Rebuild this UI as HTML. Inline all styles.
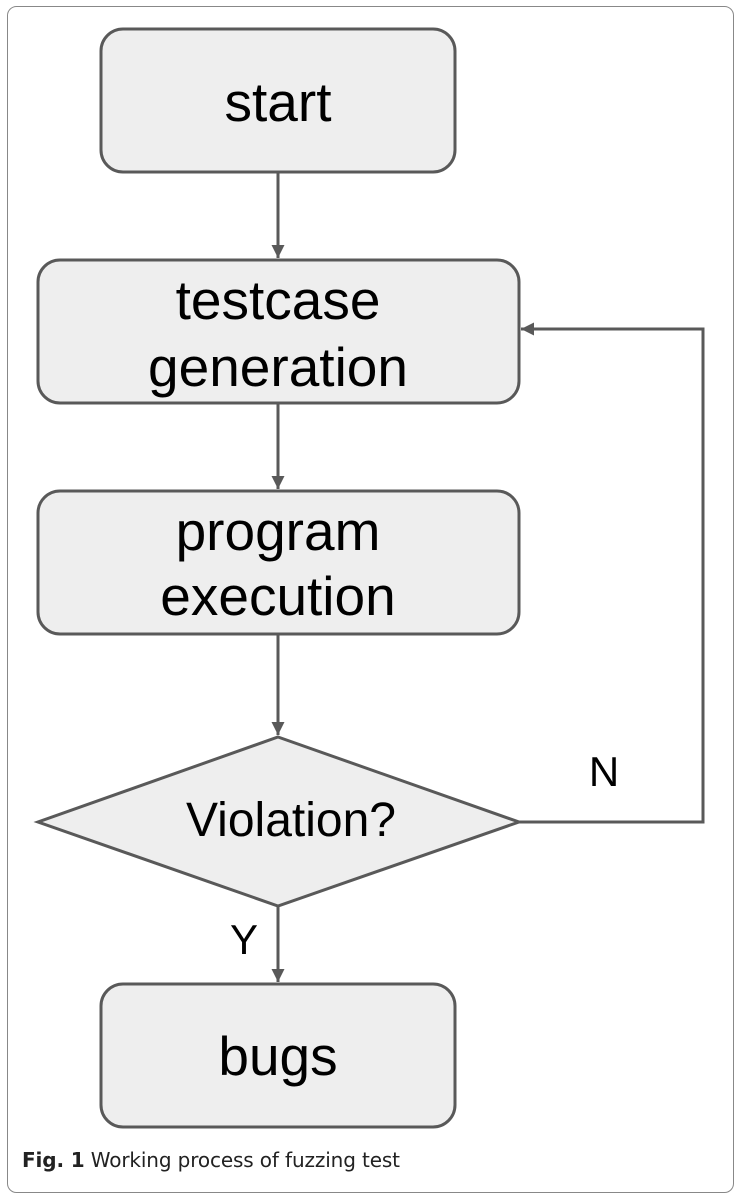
<!DOCTYPE html>
<html><head><style>
body{margin:0;background:#fff;}
svg{display:block;}
</style></head><body>
<svg width="740" height="1199" viewBox="0 0 740 1199" xmlns="http://www.w3.org/2000/svg">
<defs><marker id="a" markerWidth="14" markerHeight="14" refX="13" refY="6.5" orient="auto" markerUnits="userSpaceOnUse"><path d="M0,0 L13,6.5 L0,13 z" fill="#595959"/></marker></defs>
<rect x="7.5" y="6.5" width="726" height="1186" rx="9" fill="#fff" stroke="#888" stroke-width="1"/>
<g fill="#eeeeee" stroke="#595959" stroke-width="3">
<rect x="101" y="29" width="354" height="143" rx="22"/>
<rect x="38" y="260" width="481" height="143" rx="22"/>
<rect x="38" y="491" width="481" height="143" rx="22"/>
<polygon points="278,737 519,822 278,906 38,822"/>
<rect x="101" y="984" width="354" height="143" rx="22"/>
</g>
<g stroke="#595959" stroke-width="3" fill="none">
<line x1="278" y1="172" x2="278" y2="258" marker-end="url(#a)"/>
<line x1="278" y1="403" x2="278" y2="489" marker-end="url(#a)"/>
<line x1="278" y1="634" x2="278" y2="735" marker-end="url(#a)"/>
<line x1="278" y1="906" x2="278" y2="982" marker-end="url(#a)"/>
<polyline points="519,822 703,822 703,329 521,329" marker-end="url(#a)"/>
</g>
<g font-family="Liberation Sans, sans-serif" font-size="55" fill="#000" text-anchor="middle">
<text x="278" y="121">start</text>
<text x="278" y="319">testcase</text>
<text x="278" y="386">generation</text>
<text x="278" y="550">program</text>
<text x="278" y="615">execution</text>
<text x="291" y="836" font-size="48">Violation?</text>
<text x="278" y="1075">bugs</text>
<text x="604" y="786" font-size="42">N</text>
<text x="244" y="954" font-size="42">Y</text>
</g>
<text x="22" y="1167" font-family="DejaVu Sans, sans-serif" font-size="20" fill="#222" textLength="378"><tspan font-weight="bold">Fig. 1</tspan> Working process of fuzzing test</text>
</svg>
</body></html>
